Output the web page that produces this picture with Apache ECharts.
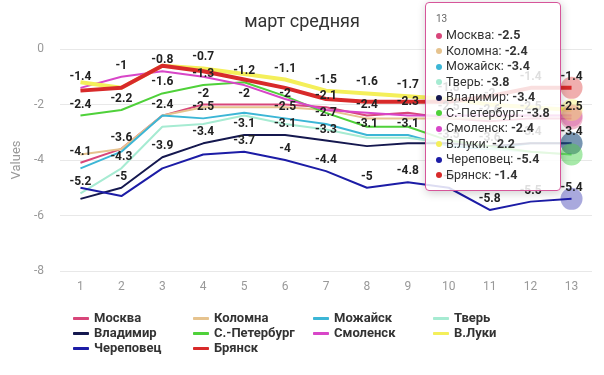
<!DOCTYPE html>
<html>
<head>
<meta charset="utf-8">
<script src="https://cdn.jsdelivr.net/npm/echarts@6/dist/echarts.min.js"></script>
<style>
html, body { margin: 0; padding: 0; background: #fff; }
#chart { width: 604px; height: 375px; }
</style>
</head>
<body>
<div id="chart"></div>
<script>
var days = ['1', '2', '3', '4', '5', '6', '7', '8', '9', '10', '11', '12', '13'];

var moskva      = [-4.1, -3.6, -2.4, -2.0, -2.0, -2.0, -2.1, -2.4, -2.3, -2.5, -2.6, -2.5, -2.5];
var kolomna     = [-3.8, -3.6, -2.4, -2.1, -2.1, -2.1, -2.2, -2.5, -2.5, -2.5, -2.5, -2.4, -2.4];
var mozhaysk    = [-4.3, -3.7, -2.4, -2.5, -2.3, -2.5, -2.7, -3.1, -3.1, -3.5, -3.6, -3.4, -3.4];
var tver        = [-5.2, -4.3, -2.8, -2.7, -2.4, -2.7, -2.9, -3.2, -3.2, -3.4, -3.6, -3.7, -3.8];
var vladimir    = [-5.4, -5.0, -3.9, -3.4, -3.1, -3.1, -3.3, -3.5, -3.4, -3.4, -3.5, -3.4, -3.4];
var spb         = [-2.4, -2.2, -1.6, -1.3, -1.2, -1.7, -2.3, -2.8, -2.8, -3.3, -3.5, -3.7, -3.8];
var smolensk    = [-1.4, -1.0, -0.8, -1.0, -1.3, -1.8, -2.2, -2.3, -2.4, -2.4, -2.4, -2.4, -2.4];
var vluki       = [-1.2, -1.4, -0.6, -0.7, -0.9, -1.1, -1.5, -1.6, -1.7, -1.8, -2.0, -2.1, -2.2];
var cherepovets = [-5.0, -5.3, -4.3, -3.8, -3.7, -4.0, -4.4, -5.0, -4.8, -5.0, -5.8, -5.5, -5.4];
var bryansk     = [-1.5, -1.4, -0.6, -0.8, -1.1, -1.4, -1.8, -1.9, -1.9, -1.9, -1.7, -1.4, -1.4];

var names = ['Москва', 'Коломна', 'Можайск', 'Тверь', 'Владимир', 'С.-Петербург', 'Смоленск', 'В.Луки', 'Череповец', 'Брянск'];
var values = [moskva, kolomna, mozhaysk, tver, vladimir, spb, smolensk, vluki, cherepovets, bryansk];
var colors = ['#d8467a', '#e6c38e', '#3cb6d6', '#a6ebd2', '#15184f', '#4fd13a', '#d846c8', '#f4ef5a', '#1c1ca6', '#d82a2a'];
var widths = [2, 2, 2, 2, 2, 2, 2, 4, 2, 4];

var myChart = echarts.init(document.getElementById('chart'));

function fade(hex, a) {
    var n = parseInt(hex.slice(1), 16);
    return 'rgba(' + (n >> 16) + ',' + ((n >> 8) & 255) + ',' + (n & 255) + ',' + a + ')';
}

var last = days.length - 1;
var series = names.map(function (name, k) {
    return {
        name: name,
        type: 'line',
        symbol: 'circle',
        symbolSize: 0,
        color: colors[k],
        lineStyle: { width: widths[k], color: colors[k] },
        label: {
            show: true,
            position: 'top',
            color: '#222',
            fontSize: 12,
            fontWeight: 'bold',
            fontFamily: 'Roboto'
        },
        labelLayout: { hideOverlap: true },
        emphasis: { disabled: true },
        // last point: big translucent marker like the hovered state
        data: values[k].map(function (v, i) {
            if (i !== last) return v;
            return {
                value: v,
                symbolSize: 22,
                label: { distance: -6 },
                itemStyle: { color: fade(colors[k], 0.38) }
            };
        })
    };
});

option = {
    animation: false,
    title: {
        text: 'март средняя',
        left: 'center',
        top: 8,
        textStyle: { fontSize: 18, fontWeight: 'normal', color: '#333', fontFamily: 'Roboto' }
    },
    grid: { left: 60, right: 12, top: 49, bottom: 104 },
    legend: {
        data: names,
        left: 68,
        top: 307,
        width: 490,
        icon: 'roundRect',
        itemWidth: 16,
        itemHeight: 3,
        itemGap: 2,
        formatter: '{n|{name}}',
        textStyle: {
            rich: {
                n: { width: 97, fontSize: 13, lineHeight: 13, fontWeight: 'bold', color: '#333', fontFamily: 'Roboto' }
            }
        }
    },
    tooltip: {
        trigger: 'item',
        alwaysShowContent: true,
        position: [425, 2],
        backgroundColor: 'rgba(255,255,255,0.85)',
        borderColor: '#d6559a',
        borderWidth: 1,
        padding: [8, 10],
        textStyle: { fontSize: 12, color: '#333', fontFamily: 'Roboto' },
        // list every city for the hovered day, like an axis tooltip
        formatter: function (p) {
            var i = p.dataIndex;
            var s = '<div style="font-size:10px;color:#666;line-height:16px">' + days[i] + '</div>';
            names.forEach(function (name, k) {
                s += '<div style="line-height:15.5px;font-size:12.5px"><span style="display:inline-block;width:6px;height:6px;border-radius:3px;margin-right:4px;vertical-align:middle;background:' +
                    colors[k] + '"></span>' + name + ': <b>' + values[k][i] + '</b></div>';
            });
            return s;
        }
    },
    xAxis: {
        type: 'category',
        data: days,
        axisLine: { show: false },
        axisTick: { show: false },
        axisLabel: { color: '#999', fontSize: 12, margin: 10, fontFamily: 'Roboto' }
    },
    yAxis: {
        type: 'value',
        min: -8,
        max: 0,
        interval: 2,
        name: 'Values',
        nameLocation: 'middle',
        nameGap: 30,
        nameTextStyle: { color: '#999', fontSize: 13, fontFamily: 'Roboto' },
        axisLabel: { color: '#999', fontSize: 12, margin: 16, fontFamily: 'Roboto' },
        splitLine: { lineStyle: { color: '#e8e8e8' } }
    },
    series: series
};

myChart.setOption(option, true);
myChart.dispatchAction({ type: 'showTip', seriesIndex: 0, dataIndex: last });
</script>
</body>
</html>
